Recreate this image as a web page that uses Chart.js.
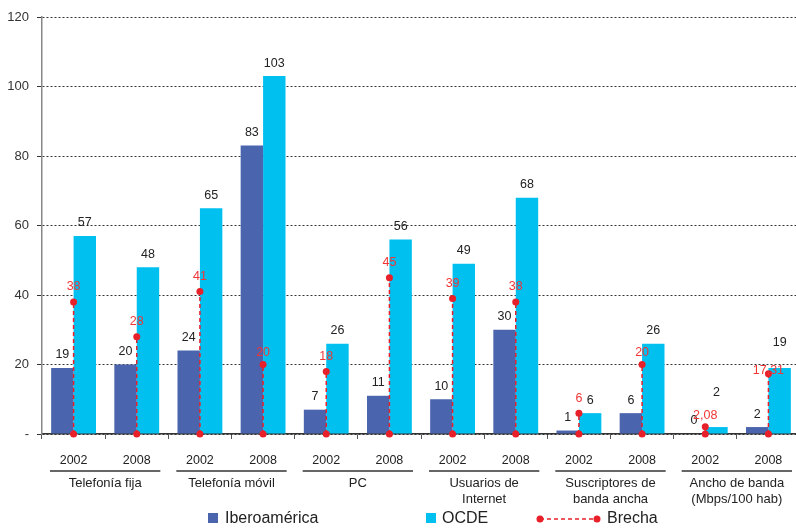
<!DOCTYPE html>
<html>
<head>
<meta charset="utf-8">
<script src="https://cdn.jsdelivr.net/npm/chart.js@4/dist/chart.umd.min.js"></script>
<style>
  html, body { margin: 0; padding: 0; background: #fff; overflow: hidden; }
  #chart { display: block; }
</style>
</head>
<body>
<canvas id="chart" width="804" height="528"></canvas>
<script>
const years = ["2002", "2008", "2002", "2008", "2002", "2008", "2002", "2008", "2002", "2008", "2002", "2008"];
const groups = [
  ["Telefonía fija"],
  ["Telefonía móvil"],
  ["PC"],
  ["Usuarios de", "Internet"],
  ["Suscriptores de", "banda ancha"],
  ["Ancho de banda", "(Mbps/100 hab)"]
];
const iberoamerica = [19, 20, 24, 83, 7, 11, 10, 30, 1, 6, 0, 2];
const ocde = [57, 48, 65, 103, 26, 56, 49, 68, 6, 26, 2, 19];
const brecha = [38, 28, 41, 20, 18, 45, 39, 38, 6, 20, 2.08, 17.31];
const yMax = 120;
const yStep = 20;

const FONT = '"Liberation Sans", Arial, Helvetica, sans-serif';
const BLUE = "#4a64ad";
const CYAN = "#00c0f0";
const RED = "#e8202a";
const TEXT = "#222";

// extra lift (px) for labels that would collide with the red ones
const labelLift = { OCDE: { 10: 22, 11: 12 }, Brecha: { 3: -3, 9: -3, 10: -4, 11: -12 } };

const fmt = v => String(v).replace(".", ",");

const decor = {
  id: "decor",
  // dashed stems + base dots, drawn after the bars but under the top points
  beforeDatasetDraw(chart, args) {
    if (args.meta.type !== "line") return;
    const ctx = chart.ctx;
    const y0 = chart.scales.y.getPixelForValue(0);
    ctx.save();
    ctx.strokeStyle = RED;
    ctx.lineWidth = 1.5;
    ctx.setLineDash([4, 3]);
    args.meta.data.forEach(pt => {
      ctx.beginPath();
      ctx.moveTo(pt.x, y0);
      ctx.lineTo(pt.x, pt.y);
      ctx.stroke();
    });
    ctx.setLineDash([]);
    ctx.fillStyle = RED;
    args.meta.data.forEach(pt => {
      ctx.beginPath();
      ctx.arc(pt.x, y0, 3.5, 0, Math.PI * 2);
      ctx.fill();
    });
    ctx.restore();
  },
  afterDatasetsDraw(chart) {
    const ctx = chart.ctx;
    ctx.save();
    ctx.textAlign = "center";
    ctx.textBaseline = "middle";
    chart.data.datasets.forEach((ds, di) => {
      const meta = chart.getDatasetMeta(di);
      const lift = labelLift[ds.label] || {};
      ctx.font = "12.5px " + FONT;
      ctx.fillStyle = ds.type === "line" ? "#f03535" : TEXT;
      meta.data.forEach((el, i) => {
        const off = (ds.type === "line" ? 15 : 13) + (lift[i] || 0);
        ctx.fillText(fmt(ds.data[i]), el.x, el.y - off);
      });
    });
    ctx.restore();
  },
  afterDraw(chart) {
    const ctx = chart.ctx;
    const x = chart.scales.x;
    const half = (x.getPixelForValue(1) - x.getPixelForValue(0)) / 2;
    ctx.save();
    // category group captions under the year ticks
    ctx.font = "13px " + FONT;
    ctx.fillStyle = TEXT;
    ctx.textAlign = "center";
    ctx.textBaseline = "middle";
    groups.forEach((lines, g) => {
      const left = x.getPixelForValue(g * 2) - half + 8;
      const right = x.getPixelForValue(g * 2 + 1) + half - 8;
      ctx.strokeStyle = "#333";
      ctx.lineWidth = 1.5;
      ctx.beginPath();
      ctx.moveTo(left, 471);
      ctx.lineTo(right, 471);
      ctx.stroke();
      lines.forEach((t, k) => ctx.fillText(t, (left + right) / 2, 483 + k * 16));
    });

    // legend
    ctx.font = "16px " + FONT;
    ctx.textAlign = "left";
    ctx.fillStyle = BLUE;
    ctx.fillRect(208, 513, 10, 10);
    ctx.fillStyle = TEXT;
    ctx.fillText("Iberoamérica", 225, 519);
    ctx.fillStyle = CYAN;
    ctx.fillRect(426, 513, 10, 10);
    ctx.fillStyle = TEXT;
    ctx.fillText("OCDE", 442, 519);
    ctx.strokeStyle = RED;
    ctx.lineWidth = 1.5;
    ctx.setLineDash([4, 3]);
    ctx.beginPath();
    ctx.moveTo(540, 519);
    ctx.lineTo(597, 519);
    ctx.stroke();
    ctx.setLineDash([]);
    ctx.fillStyle = RED;
    [540, 597].forEach(cx => {
      ctx.beginPath();
      ctx.arc(cx, 519, 3.5, 0, Math.PI * 2);
      ctx.fill();
    });
    ctx.fillStyle = TEXT;
    ctx.fillText("Brecha", 607, 519);
    ctx.restore();
  }
};

new Chart(document.getElementById("chart"), {
  type: "bar",
  data: {
    labels: years,
    datasets: [
      {
        label: "Iberoamérica",
        data: iberoamerica,
        backgroundColor: BLUE,
        order: 2,
        categoryPercentage: 0.71,
        barPercentage: 1
      },
      {
        label: "OCDE",
        data: ocde,
        backgroundColor: CYAN,
        order: 2,
        categoryPercentage: 0.71,
        barPercentage: 1
      },
      {
        type: "line",
        label: "Brecha",
        data: brecha,
        showLine: false,
        pointRadius: 3.5,
        pointBackgroundColor: RED,
        pointBorderWidth: 0,
        order: 1
      }
    ]
  },
  options: {
    responsive: false,
    animation: false,
    layout: { padding: { top: 17, right: 0, bottom: 0, left: 0 } },
    plugins: {
      legend: { display: false },
      tooltip: { enabled: false }
    },
    scales: {
      x: {
        grid: { drawOnChartArea: false, tickLength: 5, color: "#555", lineWidth: 1 },
        border: { color: "#333", width: 1.5 },
        ticks: { color: TEXT, font: { family: FONT, size: 12.5 }, padding: 14, maxRotation: 0 },
        afterFit: s => { s.height = 94; }
      },
      y: {
        min: 0,
        max: yMax,
        grid: { color: "#333", lineWidth: 1, tickLength: 5 },
        border: { color: "#888", width: 1.5, dash: [2, 2] },
        ticks: {
          stepSize: yStep,
          padding: 8,
          color: "#333",
          font: { family: FONT, size: 13 },
          callback: v => (v === 0 ? "-" : v)
        },
        afterFit: s => { s.width = 42; }
      }
    }
  },
  plugins: [decor]
});
</script>
</body>
</html>
